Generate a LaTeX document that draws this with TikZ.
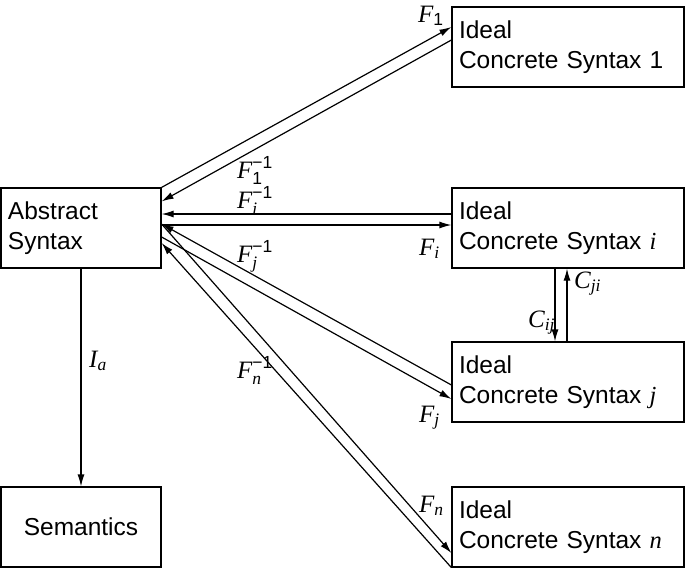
\documentclass[tikz,border=0pt]{standalone}
\usepackage{amsmath}
\usepackage{fontspec}
\setmainfont{Liberation Sans}
\newfontfamily\timesf{Liberation Serif}
\usetikzlibrary{arrows.meta,calc}
\newcommand\mi[1]{\text{\timesf\itshape #1}}
\newcommand\tx[1]{{\timesf\itshape #1}}
\begin{document}
\begin{tikzpicture}[x=1pt,y=-1pt,
  box/.style={draw, line width=1.2pt, minimum height=80pt, inner sep=0pt,
    align=left, font=\fontsize{24.5}{30}\selectfont},
  cbox/.style={box, minimum width=232pt, text width=218pt},
  abox/.style={box, minimum width=160pt, text width=146pt},
  arr/.style={line width=1.2pt, -{Latex[length=12pt,width=7pt]}},
  lbl/.style={anchor=base west, inner sep=0pt, font=\fontsize{25}{30}\selectfont}]
\useasboundingbox (0,0) rectangle (685,568);
\node[abox] (abs) at (81,228) {Abstract\\Syntax};
\node[box, minimum width=160pt, align=center] (sem) at (81,527) {Semantics};
\node[cbox] (c1) at (568,47) {Ideal\\Concrete Syntax 1};
\node[cbox] (ci) at (568,228) {Ideal\\Concrete Syntax \tx{i}};
\node[cbox] (cj) at (568,382) {Ideal\\Concrete Syntax \tx{j}};
\node[cbox] (cn) at (568,527) {Ideal\\Concrete Syntax \tx{n}};
% connectors
\draw[arr] (abs.north east) -- ($(c1.west)+(0,-20)$);
\draw[arr] ($(c1.west)+(0,-7)$) -- ($(abs.north east)+(0,14)$);
\draw[arr] ($(ci.west)+(0,-14)$) -- ($(abs.east)+(0,-14)$);
\draw[arr] ($(abs.east)+(0,-3)$) -- ($(ci.west)+(0,-3)$);
\draw[arr] ($(cj.west)+(0,3)$) -- ($(abs.east)+(0,-4)$);
\draw[arr] ($(abs.east)+(0,9)$) -- ($(cj.west)+(0,17)$);
\draw[arr] (cn.south west) -- ($(abs.east)+(0,15)$);
\draw[arr] ($(abs.east)+(0,-4)$) -- ($(cn.west)+(0,26)$);
\draw[arr] ($(ci.south)+(-13,0)$) -- ($(cj.north)+(-13,0)$);
\draw[arr] ($(cj.north)+(-1,0)$) -- ($(ci.south)+(-1,0)$);
\draw[arr] (abs.south) -- (sem.north);
% labels
\node[lbl] (lf1) at (418,22) {$\mi{F}_{\text{1}}$};
\node[lbl] (lf1i) at (237,178) {$\mi{F}_{\text{1}}^{\text{−1}}$};
\node[lbl] (lfii) at (237,208) {$\mi{F}_{\mi{i}}^{\text{−1}}$};
\node[lbl] (lfi) at (419,255) {$\mi{F}_{\mi{i}}$};
\node[lbl] (lfji) at (237,262) {$\mi{F}_{\mi{j}}^{\text{−1}}$};
\node[lbl] (lfni) at (237,378) {$\mi{F}_{\mi{n}}^{\text{−1}}$};
\node[lbl] (lfj) at (419,422) {$\mi{F}_{\mi{j}}$};
\node[lbl] (lfn) at (419,512) {$\mi{F}_{\mi{n}}$};
\node[lbl] (lia) at (89,367) {$\mi{I}_{\mi{a}}$};
\node[lbl] (lcij) at (528,327) {$\mi{C}_{\mi{ij}}$};
\node[lbl] (lcji) at (574,288) {$\mi{C}_{\mi{ji}}$};
\end{tikzpicture}
\end{document}
